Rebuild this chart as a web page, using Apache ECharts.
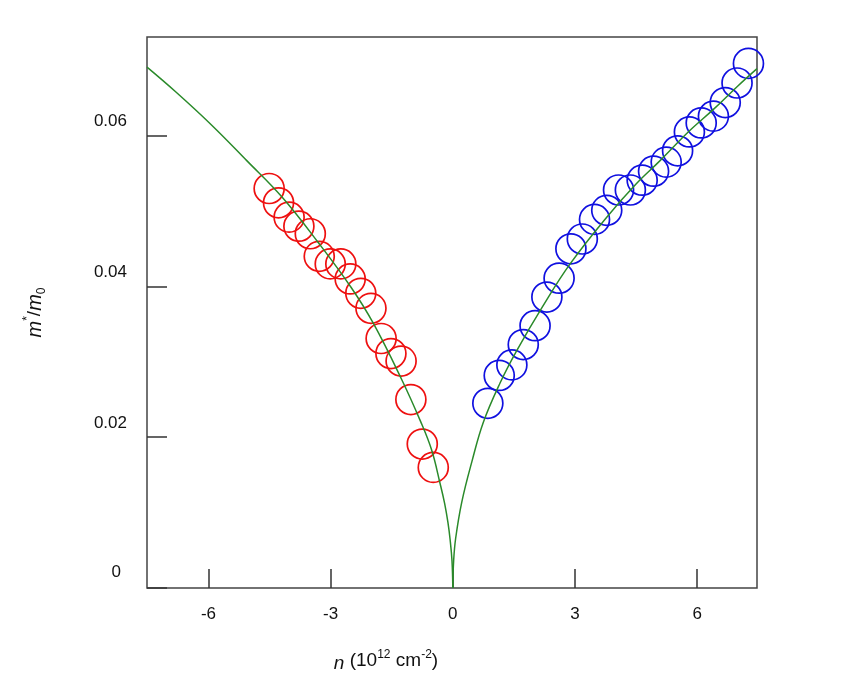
<!DOCTYPE html>
<html>
<head>
<meta charset="utf-8">
<script src="https://cdn.jsdelivr.net/npm/echarts@6/dist/echarts.min.js"></script>
<style>
html,body{margin:0;padding:0;background:#fff;}
#chart{width:847px;height:682px;}
</style>
</head>
<body>
<div id="chart"></div>
<script>
// Hole-doped data (red circles)
const redN = [-4.51,-4.28,-4.02,-3.78,-3.50,-3.28,-3.01,-2.75,-2.52,-2.26,-2.01,-1.76,-1.52,-1.27,-1.03,-0.75,-0.48];
const redM = [0.0530,0.0511,0.0492,0.0480,0.0470,0.0440,0.0430,0.0430,0.0410,0.0391,0.0371,0.0331,0.0311,0.0301,0.0250,0.0191,0.0160];
// Electron-doped data (blue circles)
const blueN = [0.86,1.14,1.45,1.73,2.02,2.31,2.61,2.90,3.18,3.48,3.78,4.07,4.36,4.65,4.93,5.24,5.52,5.81,6.10,6.40,6.69,6.98,7.26];
const blueM = [0.0245,0.0282,0.0296,0.0323,0.0348,0.0386,0.0411,0.0450,0.0463,0.0489,0.0501,0.0528,0.0528,0.0541,0.0553,0.0565,0.0580,0.0605,0.0617,0.0626,0.0644,0.0670,0.0696];
// Green theory curve
const fitLeftN = [-7.51,-6.8,-5.92,-5.06,-4.2,-3.3,-2.5,-1.95,-1.25,-0.8,-0.52,-0.31,-0.2,-0.12,-0.066,-0.02,0];
const fitLeftM = [0.0691,0.0658,0.0614,0.0567,0.0519,0.0458,0.0399,0.0351,0.0276,0.0222,0.0183,0.0138,0.0112,0.0087,0.0064,0.0036,0];
const fitRightN = [0,0.02,0.07,0.22,0.47,0.75,1.16,1.57,2.2,2.88,3.78,4.5,5.09,5.8,6.4,7.0,7.47];
const fitRightM = [0,0.0036,0.0066,0.0114,0.0168,0.0220,0.0272,0.0315,0.0373,0.0430,0.0492,0.0536,0.0567,0.0606,0.0635,0.0666,0.0689];
// Tick values
const xTicks = [-6,-3,0,3,6];
const yTicks = [0,0.02,0.04,0.06];

const zip = (a,b) => a.map((v,i)=>[v,b[i]]);
const FONT = '"Liberation Sans", Arial, sans-serif';
const chart = echarts.init(document.getElementById('chart'), null, {renderer:'canvas'});
chart.setOption({
  animation:false,
  backgroundColor:'#fff',
  grid:{left:147, top:37, width:610, height:551, show:true, borderColor:'#444', borderWidth:1.5, backgroundColor:'transparent'},
  xAxis:{
    type:'value', min:-7.51, max:7.47,
    axisLine:{show:false, onZero:false},
    splitLine:{show:false},
    axisTick:{show:true, inside:true, length:19, customValues:xTicks, lineStyle:{color:'#333', width:1.5}},
    axisLabel:{customValues:xTicks, margin:18, fontSize:17, color:'#111', fontFamily:FONT, formatter:v=>String(v)},
    name:'{i|n} (10{s|12} cm{s|-2})',
    nameLocation:'middle', nameGap:61,
    nameTextStyle:{fontSize:19, color:'#111', fontFamily:FONT, padding:[0,132,0,0],
      rich:{i:{fontStyle:'italic', fontSize:19, fontFamily:FONT, color:'#111', lineHeight:24, verticalAlign:'bottom'},
            s:{fontSize:12, fontFamily:FONT, color:'#111', lineHeight:24, verticalAlign:'top'}}}
  },
  yAxis:{
    type:'value', min:0, max:0.0731,
    axisLine:{show:false, onZero:false},
    splitLine:{show:false},
    axisTick:{show:true, inside:true, length:20, customValues:yTicks, lineStyle:{color:'#333', width:1.5}},
    axisLabel:{customValues:yTicks, margin:20, fontSize:17, color:'#111', fontFamily:FONT, verticalAlign:'bottom', lineHeight:18, padding:[0,0,5,0],
      formatter:v=> v===0 ? '{z|0}' : v.toFixed(2),
      rich:{z:{fontSize:17, color:'#111', fontFamily:FONT, padding:[0,6,3,0]}}},
    name:'{i|m}{s|*}/{i|m}{b|0}',
    nameLocation:'middle', nameGap:99,
    nameTextStyle:{fontSize:19, color:'#111', fontFamily:FONT,
      rich:{i:{fontStyle:'italic', fontSize:20, fontFamily:FONT, color:'#111', lineHeight:26},
            s:{fontSize:12, fontFamily:FONT, color:'#111', lineHeight:26, verticalAlign:'top'},
            b:{fontSize:12, fontFamily:FONT, color:'#111', lineHeight:26, verticalAlign:'bottom'}}}
  },
  series:[
    {type:'scatter', data:zip(redN,redM), symbol:'circle', symbolSize:30,
     itemStyle:{color:'transparent', borderColor:'#ee1010', borderWidth:1.7, opacity:1}},
    {type:'scatter', data:zip(blueN,blueM), symbol:'circle', symbolSize:30,
     itemStyle:{color:'transparent', borderColor:'#1010e0', borderWidth:1.7, opacity:1}},
    {type:'line', data:zip(fitLeftN,fitLeftM), showSymbol:false, smooth:0.4,
     lineStyle:{color:'#2a8a2a', width:1.5}, z:3},
    {type:'line', data:zip(fitRightN,fitRightM), showSymbol:false, smooth:0.4,
     lineStyle:{color:'#2a8a2a', width:1.5}, z:3}
  ]
});
</script>
</body>
</html>
